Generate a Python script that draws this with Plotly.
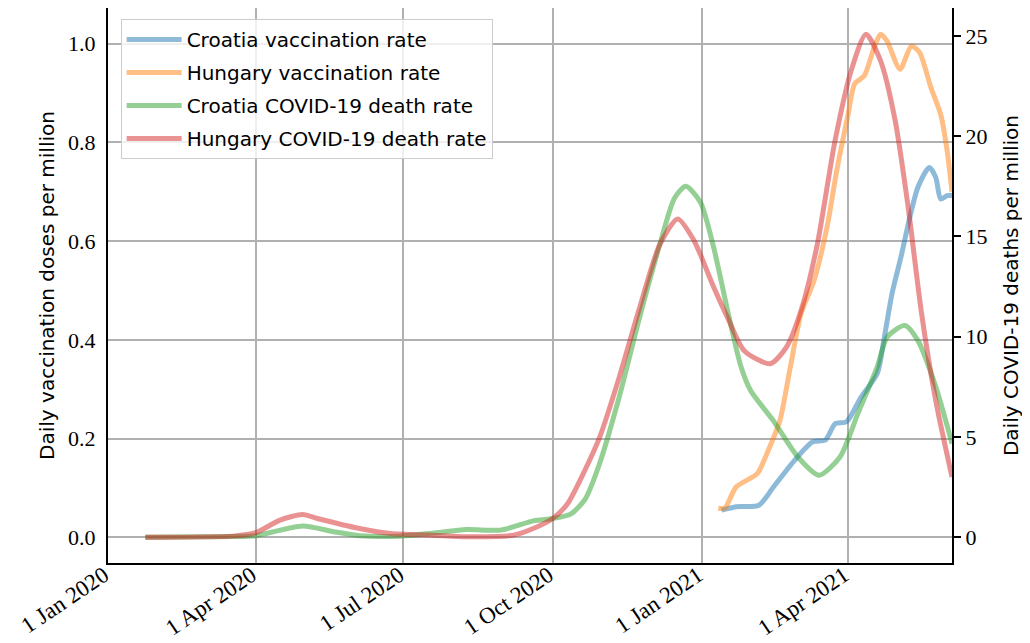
import plotly.graph_objects as go

# ---------------- data ----------------
hu_death_dates = ["2020-01-24", "2020-03-18", "2020-04-01", "2020-04-16", "2020-04-30", "2020-05-09",
                  "2020-06-04", "2020-06-23", "2020-07-19", "2020-08-09", "2020-09-07", "2020-09-19",
                  "2020-10-01", "2020-10-10", "2020-10-20", "2020-10-30", "2020-11-11",
                  "2020-11-23", "2020-12-06", "2020-12-17", "2020-12-27", "2021-01-08", "2021-01-17",
                  "2021-01-27", "2021-02-12", "2021-02-22", "2021-03-03", "2021-03-13", "2021-03-24",
                  "2021-04-03", "2021-04-12", "2021-04-21", "2021-04-30", "2021-05-08", "2021-05-16",
                  "2021-05-25", "2021-06-04"]
hu_death = [0.0, 0.05, 0.22, 0.85, 1.13, 0.93,
            0.43, 0.18, 0.10, 0.02, 0.10, 0.43,
            0.93, 1.65, 3.2, 5.0, 7.98,
            11.3, 14.6, 15.87, 14.8, 12.5, 10.9,
            9.3, 8.65, 9.48, 11.3, 14.6, 19.8,
            23.3, 25.08, 23.75, 20.77, 16.45, 11.3,
            6.8, 3.0]

hr_death_dates = ["2020-01-24", "2020-03-18", "2020-04-01", "2020-04-30", "2020-05-19", "2020-06-04",
                  "2020-06-29", "2020-07-19", "2020-08-09", "2020-08-30", "2020-09-19", "2020-10-01",
                  "2020-10-12", "2020-10-21", "2020-10-30", "2020-11-11", "2020-11-23", "2020-12-06",
                  "2020-12-15", "2020-12-22", "2020-12-31", "2021-01-08", "2021-01-17", "2021-01-25",
                  "2021-01-31", "2021-02-14", "2021-03-01", "2021-03-14", "2021-03-27", "2021-04-07",
                  "2021-04-19", "2021-04-25", "2021-05-06", "2021-05-14", "2021-05-25", "2021-06-04"]
hr_death = [0.0, 0.03, 0.07, 0.56, 0.27, 0.07,
            0.05, 0.20, 0.38, 0.35, 0.81, 0.93,
            1.15, 1.9, 3.7, 7.0, 10.8, 14.6,
            16.9, 17.5, 16.7, 14.5, 11.2, 8.5,
            7.3, 5.8, 4.0, 3.09, 4.0, 6.16,
            8.5, 9.97, 10.56, 9.8, 7.5, 4.67]

hu_vacc_dates = ["2021-01-11", "2021-01-15", "2021-01-22", "2021-02-04", "2021-02-10", "2021-02-18",
                 "2021-02-24", "2021-03-03", "2021-03-11", "2021-03-19", "2021-03-25", "2021-04-01",
                 "2021-04-05", "2021-04-11", "2021-04-17", "2021-04-21", "2021-04-25", "2021-05-03",
                 "2021-05-10", "2021-05-15", "2021-05-22", "2021-05-28", "2021-06-01", "2021-06-04"]
hu_vacc = [0.059, 0.059, 0.102, 0.129, 0.17, 0.237,
           0.338, 0.453, 0.52, 0.628, 0.743, 0.857,
           0.918, 0.935, 0.992, 1.019, 1.005, 0.948,
           0.995, 0.982, 0.911, 0.857, 0.783, 0.70]

hr_vacc_dates = ["2021-01-13", "2021-01-22", "2021-02-05", "2021-02-14", "2021-02-27", "2021-03-10",
                 "2021-03-18", "2021-03-24", "2021-03-31", "2021-04-09", "2021-04-19", "2021-04-23",
                 "2021-04-28", "2021-05-04", "2021-05-09", "2021-05-14", "2021-05-21", "2021-05-25",
                 "2021-05-28", "2021-06-01", "2021-06-04"]
hr_vacc = [0.055, 0.062, 0.065, 0.102, 0.156, 0.193,
           0.197, 0.23, 0.234, 0.284, 0.332, 0.399,
           0.493, 0.574, 0.648, 0.709, 0.749, 0.729,
           0.685, 0.692, 0.692]

series_names = ["Croatia vaccination rate", "Hungary vaccination rate",
                "Croatia COVID-19 death rate", "Hungary COVID-19 death rate"]
colors = ["#1f77b4", "#ff7f0e", "#2ca02c", "#d62728"]

x_range = ["2020-01-01", "2021-06-04"]
left_range = [-0.052, 1.072]
right_range = [-1.29, 26.39]

# ---------------- figure ----------------
fig = go.Figure()
series = [(hr_vacc_dates, hr_vacc, "y"), (hu_vacc_dates, hu_vacc, "y"),
          (hr_death_dates, hr_death, "y2"), (hu_death_dates, hu_death, "y2")]
for i, ((xs, ys, ax), name, c) in enumerate(zip(series, series_names, colors)):
    fig.add_trace(go.Scatter(
        x=xs, y=ys, name=name, yaxis=ax, mode="lines", legendgroup=f"g{i}",
        line=dict(color=c, width=5, shape="spline", smoothing=0.7),
        opacity=0.5,
    ))

serif = "Liberation Serif"
sans = "DejaVu Sans"

# page body has an 8px default margin, so the figure is sized to fit inside the window
fig.update_layout(
    width=1022, height=635,
    margin=dict(l=100, r=78, t=0, b=80, autoexpand=False),
    plot_bgcolor="white", paper_bgcolor="white",
    showlegend=True,
    legend=dict(
        x=0.015, y=0.98, xanchor="left", yanchor="top",
        bgcolor="rgba(255,255,255,0.8)", bordercolor="#cccccc", borderwidth=1,
        font=dict(family=sans, size=20, color="black"),
        traceorder="grouped", tracegroupgap=4, itemwidth=55,
    ),
    xaxis=dict(
        type="date", range=x_range, automargin=False,
        tick0="2020-01-01", dtick="M3", tickformat="%-d %b %Y",
        tickangle=-34, tickfont=dict(family=serif, size=23, color="black"),
        ticklabelstandoff=-12, ticklabelshift=-4,
        showgrid=True, gridcolor="#b0b0b0", gridwidth=1.5,
        showline=True, linecolor="black", linewidth=2, mirror=True,
        ticks="", zeroline=False,
    ),
    yaxis=dict(
        range=left_range, tickvals=[0, 0.2, 0.4, 0.6, 0.8, 1.0], automargin=False,
        tickformat=".1f",
        tickfont=dict(family=serif, size=22, color="black"),
        title=dict(text="Daily vaccination doses per million",
                   font=dict(family=sans, size=20, color="black"), standoff=8),
        showgrid=True, gridcolor="#b0b0b0", gridwidth=1.5,
        showline=True, linecolor="black", linewidth=2,
        ticks="outside", ticklen=6, tickwidth=1, tickcolor="rgba(0,0,0,0)",
        zeroline=False,
    ),
    yaxis2=dict(
        range=right_range, overlaying="y", side="right", automargin=False,
        tickvals=[0, 5, 10, 15, 20, 25],
        tickfont=dict(family=serif, size=22, color="black"),
        title=dict(text="Daily COVID-19 deaths per million",
                   font=dict(family=sans, size=20, color="black"), standoff=18),
        showgrid=False,
        showline=True, linecolor="black", linewidth=2,
        ticks="outside", ticklen=7, tickwidth=1.5, tickcolor="black",
        zeroline=False,
    ),
)

fig.write_html("out.html")
